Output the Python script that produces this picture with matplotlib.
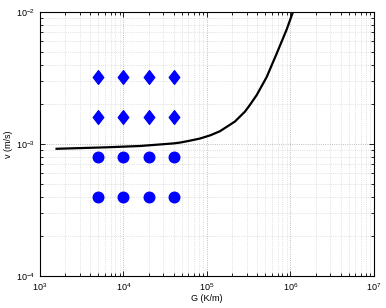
import matplotlib
matplotlib.use("Agg")
import matplotlib.pyplot as plt
from matplotlib.path import Path

plt.rcParams['font.family'] = ['Liberation Sans', 'DejaVu Sans']
plt.rcParams['mathtext.default'] = 'regular'
plt.rcParams['font.size'] = 6.5

# black curve
curve_G = [1.58e3, 6.3e3, 1.58e4, 3.94e4, 4.75e4, 6.25e4, 8.24e4, 1.1e5, 1.43e5, 2.16e5,
           2.85e5, 3.27e5, 3.94e5, 5.19e5, 6.84e5, 9.02e5, 1.07e6]
curve_v = [9.2e-4, 9.44e-4, 9.66e-4, 1.01e-3, 1.025e-3, 1.06e-3, 1.10e-3, 1.165e-3, 1.25e-3, 1.48e-3,
           1.76e-3, 1.98e-3, 2.35e-3, 3.22e-3, 4.85e-3, 7.4e-3, 1.0e-2]

# marker grid
pts_G = [5e3, 1e4, 2e4, 4e4]
circle_v = [4e-4, 8e-4]
diamond_v = [1.6e-3, 3.2e-3]

diamond = Path([(0, 1), (0.77, 0), (0, -1), (-0.77, 0), (0, 1)],
               [Path.MOVETO, Path.LINETO, Path.LINETO, Path.LINETO, Path.CLOSEPOLY])

fig = plt.figure(figsize=(3.86, 3.08), dpi=100)
ax = fig.add_axes([0.1036, 0.1039, 0.8653, 0.8571])

for v in circle_v:
    ax.plot(pts_G, [v]*len(pts_G), marker='o', color='#0000ff', markersize=7.6, linestyle='none')
for v in diamond_v:
    ax.plot(pts_G, [v]*len(pts_G), marker=diamond, color='#0000ff', markersize=9.8, linestyle='none')

ax.plot(curve_G, curve_v, '-', color='black', linewidth=1.6, solid_joinstyle='round')

ax.set_xscale('log')
ax.set_yscale('log')
ax.set_xlim(1e3, 1e7)
ax.set_ylim(1e-4, 1e-2)

ax.grid(True, which='major', linestyle=':', color='#a8a8a8', linewidth=0.6)
ax.grid(True, which='minor', linestyle=':', color='#cccccc', linewidth=0.5)
ax.tick_params(which='both', direction='in', top=True, right=True, width=0.6)
ax.tick_params(which='major', length=3.5)
ax.tick_params(which='minor', length=2)
for s in ax.spines.values():
    s.set_linewidth(0.8)

ax.set_xlabel('G (K/m)', labelpad=1)
ax.set_ylabel('v (m/s)', labelpad=2)

fig.savefig('out.png', dpi=100)
